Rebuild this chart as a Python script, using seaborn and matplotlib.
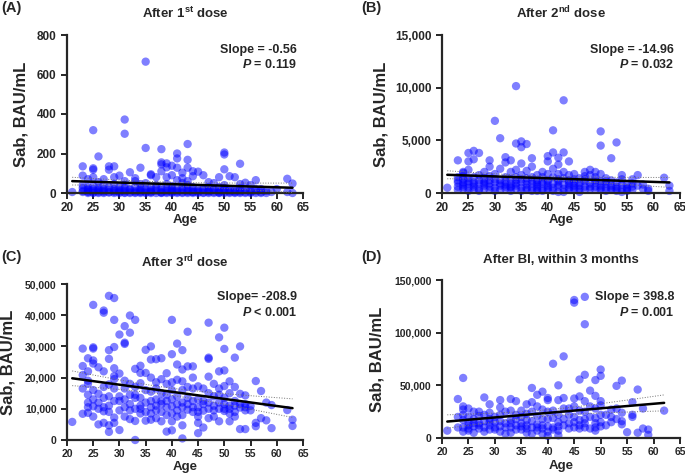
import numpy as np
import matplotlib
matplotlib.use("Agg")
import matplotlib.pyplot as plt
import seaborn as sns
from matplotlib.ticker import FuncFormatter, MultipleLocator

# (age, Sab BAU/mL)
pts_a = [
    (21, 5), (23, 135), (23, 88), (23, 10), (23, 25), (23, 40), (23, 5),
    (24, 70), (24, 5), (24, 15), (24, 30), (24, 0), (24, 20), (24, 8),
    (25, 318), (25, 125), (25, 118), (25, 80), (25, 0), (25, 20), (25, 35), (25, 10), (25, 3),
    (26, 185), (26, 55), (26, 5), (26, 15), (26, 25), (26, 0), (26, 12),
    (27, 70), (27, 0), (27, 10), (27, 40), (27, 20), (27, 5),
    (28, 135), (28, 118), (28, 5), (28, 30), (28, 15), (28, 2),
    (29, 135), (29, 80), (29, 0), (29, 20), (29, 45), (29, 10), (29, 6),
    (30, 88), (30, 5), (30, 15), (30, 30), (30, 0), (30, 10),
    (31, 372), (31, 300), (31, 60), (31, 0), (31, 10), (31, 25), (31, 40), (31, 3),
    (32, 105), (32, 5), (32, 20), (32, 15), (32, 0),
    (33, 75), (33, 0), (33, 30), (33, 60), (33, 10), (33, 4),
    (34, 128), (34, 5), (34, 15), (34, 25), (34, 45), (34, 0), (34, 8),
    (35, 665), (35, 228), (35, 50), (35, 0), (35, 10), (35, 20), (35, 3),
    (36, 95), (36, 90), (36, 5), (36, 30), (36, 15), (36, 0), (36, 8),
    (37, 80), (37, 10), (37, 25), (37, 40), (37, 0),
    (38, 222), (38, 155), (38, 145), (38, 110), (38, 0), (38, 15), (38, 30), (38, 5), (38, 2),
    (39, 150), (39, 130), (39, 80), (39, 5), (39, 20), (39, 45), (39, 10), (39, 0),
    (40, 138), (40, 90), (40, 0), (40, 15), (40, 25), (40, 35), (40, 5), (40, 8),
    (41, 200), (41, 175), (41, 128), (41, 65), (41, 5), (41, 20), (41, 10), (41, 0),
    (42, 103), (42, 75), (42, 0), (42, 30), (42, 15), (42, 50), (42, 4),
    (43, 248), (43, 168), (43, 128), (43, 60), (43, 5), (43, 10), (43, 25), (43, 40), (43, 0),
    (44, 110), (44, 85), (44, 0), (44, 15), (44, 30), (44, 6), (44, 5),
    (45, 108), (45, 5), (45, 20), (45, 10), (45, 0),
    (46, 90), (46, 0), (46, 25), (46, 15), (46, 3),
    (47, 55), (47, 5), (47, 10), (47, 30), (47, 0), (47, 12),
    (48, 50), (48, 0), (48, 20), (48, 15), (48, 5),
    (49, 80), (49, 5), (49, 30), (49, 10), (49, 0), (49, 2),
    (50, 205), (50, 195), (50, 120), (50, 40), (50, 0), (50, 15), (50, 25), (50, 6),
    (51, 85), (51, 5), (51, 10), (51, 20), (51, 0),
    (52, 80), (52, 0), (52, 15), (52, 4), (52, 8),
    (53, 148), (53, 45), (53, 5), (53, 25), (53, 10), (53, 0),
    (54, 52), (54, 0), (54, 15), (54, 5),
    (55, 40), (55, 5), (55, 10), (55, 0),
    (56, 65), (56, 0), (56, 20), (56, 8),
    (57, 20), (57, 5), (57, 0), (58, 0), (58, 10),
    (59, 5), (60, 20), (62, 72), (62, 5), (63, 48), (63, 0),
]

pts_b = [
    (21, 500),
    (23, 3100), (23, 1500), (23, 1000), (23, 600), (23, 1200), (23, 300),
    (24, 1900), (24, 1600), (24, 800), (24, 1300), (24, 400), (24, 2000), (24, 600), (24, 1000),
    (25, 3800), (25, 3000), (25, 2200), (25, 1400), (25, 900), (25, 500), (25, 1100), (25, 200),
    (26, 4000), (26, 3200), (26, 1000), (26, 600), (26, 1500), (26, 300), (26, 800),
    (27, 3800), (27, 1700), (27, 900), (27, 400), (27, 1200), (27, 200),
    (28, 2000), (28, 1400), (28, 700), (28, 1100), (28, 400), (28, 900),
    (29, 3100), (29, 2500), (29, 1600), (29, 900), (29, 300), (29, 1200), (29, 600),
    (30, 6850), (30, 1800), (30, 1000), (30, 500), (30, 1300), (30, 200),
    (31, 5200), (31, 2300), (31, 1200), (31, 700), (31, 300), (31, 900),
    (32, 3400), (32, 2900), (32, 1500), (32, 800), (32, 1100), (32, 400), (32, 600),
    (33, 3100), (33, 2000), (33, 1300), (33, 600), (33, 900), (33, 200), (33, 500),
    (34, 10150), (34, 4700), (34, 2200), (34, 1500), (34, 900), (34, 400), (34, 1200), (34, 700),
    (35, 4900), (35, 4350), (35, 2800), (35, 1700), (35, 1000), (35, 500), (35, 1300), (35, 200),
    (36, 4650), (36, 2100), (36, 1400), (36, 800), (36, 300), (36, 1100), (36, 500),
    (37, 3300), (37, 2500), (37, 1500), (37, 900), (37, 1200), (37, 500), (37, 200),
    (38, 1700), (38, 1200), (38, 600), (38, 1000), (38, 200), (38, 800), (38, 400),
    (39, 2000), (39, 1500), (39, 900), (39, 400), (39, 1100), (39, 200),
    (40, 3500), (40, 3000), (40, 1800), (40, 1200), (40, 700), (40, 300), (40, 1000), (40, 500),
    (41, 5950), (41, 3850), (41, 2300), (41, 1500), (41, 900), (41, 500), (41, 200),
    (42, 3350), (42, 2700), (42, 1800), (42, 1100), (42, 600), (42, 100), (42, 1300), (42, 800),
    (43, 8800), (43, 3850), (43, 2000), (43, 1400), (43, 800), (43, 400), (43, 100),
    (44, 3000), (44, 1700), (44, 1000), (44, 500), (44, 1200), (44, 800), (44, 300),
    (45, 1800), (45, 1300), (45, 700), (45, 300), (45, 1000), (45, 500),
    (46, 1400), (46, 900), (46, 400), (46, 100), (46, 700),
    (47, 2000), (47, 1600), (47, 1100), (47, 600), (47, 1300), (47, 300),
    (48, 2200), (48, 1700), (48, 900), (48, 400), (48, 600),
    (49, 2000), (49, 1500), (49, 1000), (49, 600), (49, 1200), (49, 300),
    (50, 5850), (50, 4500), (50, 1800), (50, 1100), (50, 700), (50, 300), (50, 500),
    (51, 1400), (51, 900), (51, 500), (51, 1100), (51, 200),
    (52, 3300), (52, 1200), (52, 700), (52, 300), (52, 500),
    (53, 4800), (53, 1000), (53, 600), (53, 200), (53, 400),
    (54, 1700), (54, 1300), (54, 800), (54, 400), (54, 100),
    (55, 800), (55, 500), (55, 200), (55, 400),
    (56, 1300), (56, 900), (56, 300), (56, 600),
    (57, 1700), (57, 700), (58, 400), (58, 800), (59, 200), (59, 400),
    (62, 1450), (63, 700), (63, 200),
]

pts_c = [
    (21, 5800),
    (23, 29300), (23, 23700), (23, 16500), (23, 8400), (23, 20800),
    (24, 26200), (24, 22000), (24, 19000), (24, 18000), (24, 12000), (24, 8700), (24, 10500), (24, 14500),
    (25, 43300), (25, 29700), (25, 29300), (25, 25500), (25, 24500), (25, 10800), (25, 7500),
    (25, 16000), (25, 13000),
    (26, 23300), (26, 14800), (26, 10000), (26, 5000), (26, 12000),
    (27, 41500), (27, 40800), (27, 22000), (27, 17000), (27, 9200), (27, 5500), (27, 10500), (27, 13500),
    (28, 46200), (28, 28800), (28, 26000), (28, 17800), (28, 14000), (28, 11000), (28, 4700),
    (28, 2600), (28, 9000),
    (29, 45500), (29, 38500), (29, 29800), (29, 23000), (29, 20500), (29, 19500), (29, 16500),
    (29, 12500), (29, 7200), (29, 5500),
    (30, 33800), (30, 21300), (30, 14000), (30, 12500), (30, 3200), (30, 9500),
    (31, 36500), (31, 31200), (31, 30800), (31, 19000), (31, 16500), (31, 10500), (31, 7500), (31, 13000),
    (32, 39900), (32, 34400), (32, 18000), (32, 14500), (32, 6700), (32, 11500), (32, 9500),
    (33, 38500), (33, 22800), (33, 13500), (33, 10000), (33, 6100), (33, 0), (33, 17000), (33, 14500),
    (34, 23800), (34, 21500), (34, 18200), (34, 13500), (34, 8500), (34, 11000), (34, 10000),
    (35, 28900), (35, 21500), (35, 16000), (35, 12000), (35, 6200), (35, 9000),
    (36, 30000), (36, 25800), (36, 20000), (36, 15500), (36, 12500), (36, 8500), (36, 6500), (36, 10500),
    (37, 25900), (37, 18500), (37, 16500), (37, 13000), (37, 9500), (37, 7000), (37, 11000),
    (38, 26200), (38, 19500), (38, 15000), (38, 11500), (38, 9000), (38, 6000), (38, 12500),
    (39, 21400), (39, 18000), (39, 14500), (39, 10500), (39, 2700), (39, 12500), (39, 8000),
    (40, 38500), (40, 27500), (40, 18500), (40, 16000), (40, 10800), (40, 6000), (40, 3100),
    (40, 13000), (40, 8500),
    (41, 30900), (41, 24200), (41, 19300), (41, 14000), (41, 11500), (41, 7500), (41, 9500),
    (42, 28800), (42, 22600), (42, 18800), (42, 16000), (42, 12000), (42, 8000), (42, 4700),
    (42, 500), (42, 10500),
    (43, 34700), (43, 23600), (43, 17000), (43, 13500), (43, 9700), (43, 11500),
    (44, 23600), (44, 20000), (44, 16500), (44, 12500), (44, 9000), (44, 10500),
    (45, 17200), (45, 13000), (45, 7500), (45, 5500), (45, 2200), (45, 10500), (45, 9000),
    (46, 16500), (46, 11500), (46, 9400), (46, 4000), (46, 12500),
    (47, 37600), (47, 26400), (47, 26000), (47, 20300), (47, 15000), (47, 12000), (47, 7000), (47, 10000),
    (48, 18000), (48, 14000), (48, 11000), (48, 7500), (48, 9500),
    (49, 32900), (49, 22000), (49, 16500), (49, 14500), (49, 12000), (49, 10000), (49, 6000),
    (50, 36000), (50, 29200), (50, 22300), (50, 17300), (50, 13500), (50, 10000), (50, 9300), (50, 11500),
    (51, 18800), (51, 15000), (51, 11000), (51, 8500), (51, 6000), (51, 10000),
    (52, 26400), (52, 17000), (52, 12500), (52, 9000), (52, 7500), (52, 11000),
    (53, 30000), (53, 14800), (53, 10400), (53, 3500), (53, 11500),
    (54, 14300), (54, 11500), (54, 9500), (54, 3500), (54, 10500),
    (55, 10900), (55, 9500), (56, 18900), (56, 5500), (56, 4400),
    (57, 15700), (57, 7000), (58, 12000), (58, 6300), (59, 11200), (59, 3800),
    (62, 9600), (63, 6500), (63, 4500),
]

pts_d = [
    (21, 7000),
    (23, 37000), (23, 10000), (23, 20000),
    (24, 57000), (24, 30000), (24, 27000), (24, 17000), (24, 10000), (24, 6000), (24, 22000),
    (25, 28000), (25, 20000), (25, 12000), (25, 7000), (25, 15000), (25, 9000),
    (26, 25000), (26, 18000), (26, 11000), (26, 5000), (26, 14000),
    (27, 25000), (27, 21000), (27, 14000), (27, 9000), (27, 12000),
    (28, 38500), (28, 22000), (28, 16000), (28, 6000), (28, 10000),
    (29, 32000), (29, 24000), (29, 18000), (29, 12000), (29, 8000), (29, 15000),
    (30, 20000), (30, 15000), (30, 10000), (30, 8000),
    (31, 36000), (31, 29000), (31, 22000), (31, 16000), (31, 6000), (31, 11000),
    (32, 25000), (32, 14000), (32, 4000), (32, 10000),
    (33, 37000), (33, 26000), (33, 17000), (33, 10000), (33, 5000), (33, 14000),
    (34, 35000), (34, 22000), (34, 18000), (34, 12000), (34, 8000),
    (35, 26000), (35, 20000), (35, 14000), (35, 8000), (35, 11000),
    (36, 32000), (36, 23000), (36, 17000), (36, 12000), (36, 5000), (36, 9000),
    (37, 47500), (37, 34000), (37, 25000), (37, 16000), (37, 10000), (37, 4000),
    (38, 41000), (38, 30000), (38, 21000), (38, 13000), (38, 7000), (38, 10000),
    (39, 44000), (39, 27000), (39, 18000), (39, 9000), (39, 4000), (39, 12000),
    (40, 38000), (40, 36000), (40, 25000), (40, 18000), (40, 11000), (40, 6000), (40, 2000),
    (41, 70500), (41, 26000), (41, 19000), (41, 10000), (41, 8000),
    (42, 50000), (42, 36000), (42, 22000), (42, 15000), (42, 7000), (42, 2500), (42, 11000),
    (43, 77500), (43, 38000), (43, 28000), (43, 18000), (43, 12000),
    (44, 28000), (44, 22000), (44, 14000), (44, 9000),
    (45, 131000), (45, 128500), (45, 37500), (45, 30000), (45, 20000), (45, 10000), (45, 15000),
    (46, 55500), (46, 39500), (46, 26000), (46, 17000), (46, 9000), (46, 12000),
    (47, 134000), (47, 108000), (47, 60000), (47, 35000), (47, 25000), (47, 18000), (47, 10000), (47, 14000),
    (48, 45000), (48, 30000), (48, 20000), (48, 9000),
    (49, 55000), (49, 40000), (49, 28000), (49, 19000), (49, 10000), (49, 7000), (49, 14000),
    (50, 65000), (50, 59000), (50, 35000), (50, 31000), (50, 22000), (50, 15000), (50, 11000),
    (51, 22000), (51, 12000), (52, 20000), (52, 27000), (52, 15000),
    (53, 49500), (53, 18000), (53, 28000),
    (54, 54500), (54, 24000), (54, 16000), (54, 13000),
    (55, 5500), (56, 34000), (56, 22000), (56, 20000),
    (57, 46000), (57, 5000), (58, 28000), (58, 9000), (59, 8000), (59, 3000),
    (62, 26000),
]

titles = [r"After 1$^{\mathrm{st}}$ dose", r"After 2$^{\mathrm{nd}}$ dose",
          r"After 3$^{\mathrm{rd}}$ dose", "After BI, within 3 months"]
panel_tags = ["(A)", "(B)", "(C)", "(D)"]
slope_texts = ["Slope = -0.56", "Slope = -14.96", "Slope= -208.9", "Slope = 398.8"]
p_texts = ["$P$ = 0.119", "$P$ = 0.032", "$P$ < 0.001", "$P$ = 0.001"]
y_max = [800, 15000, 50000, 150000]
y_step = [200, 5000, 10000, 50000]

sns.set_style("ticks")
plt.rcParams["font.family"] = ["Liberation Sans", "DejaVu Sans"]
plt.rcParams["font.weight"] = "bold"
plt.rcParams["mathtext.fontset"] = "custom"
plt.rcParams["mathtext.rm"] = "Liberation Sans:bold"
plt.rcParams["mathtext.it"] = "Liberation Sans:bold:italic"
plt.rcParams["mathtext.bf"] = "Liberation Sans:bold"

fig = plt.figure(figsize=(6.85, 4.76), dpi=100)
W, H = 685, 476

# axes boxes in pixels: left, top, right, bottom
boxes = [(67, 35, 303, 193), (442, 35, 680, 193),
         (67, 284, 303, 440), (442, 280, 680, 438)]
ylab_x = [-0.165, -0.223, -0.22, -0.24]
tick_size = [8.5, 8.5, 7.5, 7.5]
xlab_px = [21, 21, 21, 22]
tag_pos = [(1, 8), (361, 8), (1, 257), (361, 257)]
text_y = [(0.905, 0.815), (0.905, 0.815), (0.915, 0.82), (0.892, 0.797)]


def draw_panel(ax, pts, i):
    age = np.array([p[0] for p in pts], dtype=float)
    sab = np.array([p[1] for p in pts], dtype=float)
    sns.scatterplot(x=age, y=sab, ax=ax, color="#0000ff", alpha=0.5,
                    s=36, edgecolor="none", clip_on=False, zorder=2)

    # linear fit with 95% CI band (dotted)
    b1, b0 = np.polyfit(age, sab, 1)
    n = len(age)
    resid = sab - (b0 + b1 * age)
    s = np.sqrt(np.sum(resid ** 2) / (n - 2))
    sxx = np.sum((age - age.mean()) ** 2)
    xs = np.linspace(age.min(), age.max(), 50)
    yh = b0 + b1 * xs
    ci = 1.97 * s * np.sqrt(1 / n + (xs - age.mean()) ** 2 / sxx)
    ax.plot(xs, yh, color="black", lw=1.8, zorder=4)
    ax.plot(xs, yh + ci, color="0.45", lw=0.7, ls=":", zorder=3)
    ax.plot(xs, yh - ci, color="0.45", lw=0.7, ls=":", zorder=3)

    ax.set_xlim(20, 65)
    ax.set_ylim(0, y_max[i])
    ax.xaxis.set_major_locator(MultipleLocator(5))
    ax.yaxis.set_major_locator(MultipleLocator(y_step[i]))
    ax.yaxis.set_major_formatter(FuncFormatter(lambda v, _: f"{v:,.0f}"))
    ax.tick_params(labelsize=tick_size[i], width=1.4, length=4, direction="out")
    ax.tick_params(axis="x", pad=2.5)
    for lab in ax.get_xticklabels() + ax.get_yticklabels():
        lab.set_fontweight("bold")
    for sp in ["left", "bottom"]:
        ax.spines[sp].set_linewidth(1.6)
    sns.despine(ax=ax)

    ax.set_title(titles[i], fontsize=9.5, fontweight="bold", pad=12)
    ax.set_xlabel("Age", fontsize=9.5, fontweight="bold")
    ax.set_ylabel("Sab, BAU/mL", fontsize=12, fontweight="bold")
    h = boxes[i][3] - boxes[i][1]
    ax.xaxis.set_label_coords(0.5, -xlab_px[i] / h)
    ax.yaxis.set_label_coords(ylab_x[i], 0.5)

    ax.text(0.975, text_y[i][0], slope_texts[i], transform=ax.transAxes,
            ha="right", va="center", fontsize=9, fontweight="bold")
    ax.text(0.975, text_y[i][1], p_texts[i], transform=ax.transAxes,
            ha="right", va="center", fontsize=9, fontweight="bold")


all_pts = [pts_a, pts_b, pts_c, pts_d]
for i, (l, t, r, b) in enumerate(boxes):
    ax = fig.add_axes([l / W, 1 - b / H, (r - l) / W, (b - t) / H])
    draw_panel(ax, all_pts[i], i)
    fig.text(tag_pos[i][0] / W, 1 - tag_pos[i][1] / H, panel_tags[i],
             fontsize=10.5, fontweight="bold", va="center", ha="left")

fig.savefig("out.png", dpi=100)
